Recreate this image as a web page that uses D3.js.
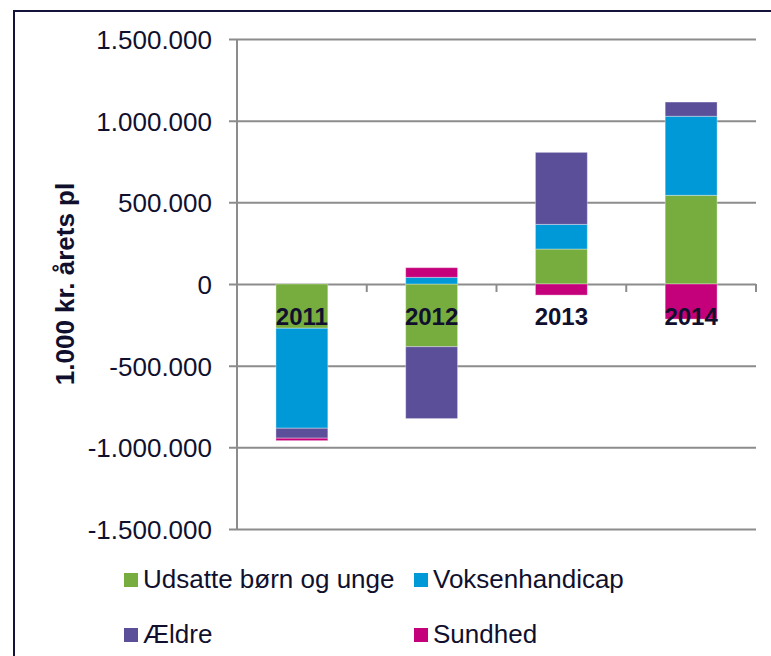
<!DOCTYPE html>
<html>
<head>
<meta charset="utf-8">
<script src="https://cdn.jsdelivr.net/npm/d3@7"></script>
<style>
  body { margin: 0; background: #fff; }
  text { font-family: "Liberation Sans", Arial, sans-serif; fill: #10102e; }
</style>
</head>
<body>
<div id="chart"></div>
<script>
// data (1.000 kr.)
const years = ["2011", "2012", "2013", "2014"];
const seriesNames = ["Udsatte børn og unge", "Voksenhandicap", "Ældre", "Sundhed"];
const udsatte = [-271000, -384000, 214000, 543000];
const voksenhandicap = [-612000, 41000, 151000, 484000];
const aeldre = [-61000, -440000, 441000, 87000];
const sundhed = [-15000, 59000, -68000, -215000];
const yTicks = [-1500000, -1000000, -500000, 0, 500000, 1000000, 1500000];

const colors = ["#77ac3f", "#0099d7", "#5b4f9a", "#c4007a"];
const keys = ["udsatte", "voksen", "aeldre", "sundhed"];

const rows = years.map((y, i) => ({
    year: y,
    udsatte: udsatte[i],
    voksen: voksenhandicap[i],
    aeldre: aeldre[i],
    sundhed: sundhed[i]
}));

const W = 771, H = 656;
const plot = { left: 237, right: 756, top: 39, bottom: 529 };

const svg = d3.select("#chart")
    .append("svg")
    .attr("width", W)
    .attr("height", H);

// outer frame (right/bottom edges fall outside the picture)
svg.append("rect")
    .attr("x", 14).attr("y", 11)
    .attr("width", 800).attr("height", 700)
    .attr("fill", "none")
    .attr("stroke", "#14143a")
    .attr("stroke-width", 2);

const x = d3.scaleBand()
    .domain(years)
    .range([plot.left, plot.right])
    .paddingInner(0.6)
    .paddingOuter(0.3);

const y = d3.scaleLinear()
    .domain([-1500000, 1500000])
    .range([plot.bottom, plot.top]);

const locale = d3.formatLocale({ decimal: ",", thousands: ".", grouping: [3], currency: ["", " kr."], minus: "-" });
const fmt = locale.format(",");

// gridlines + y axis
const yAxis = svg.append("g")
    .attr("transform", `translate(${plot.left},0)`)
    .call(d3.axisLeft(y).tickValues(yTicks).tickFormat(fmt)
        .tickSizeInner(-(plot.right - plot.left)).tickSizeOuter(0).tickPadding(0));
yAxis.select(".domain").remove();
yAxis.selectAll(".tick line")
    .attr("x1", -8)
    .attr("stroke", "#8c8c8c")
    .attr("stroke-width", 2);
yAxis.selectAll(".tick text")
    .attr("x", -25)
    .attr("dy", "0.36em")
    .style("font-size", "26px")
    .style("fill", "#10102e");

svg.append("line")
    .attr("x1", plot.left).attr("x2", plot.left)
    .attr("y1", plot.top).attr("y2", plot.bottom)
    .attr("stroke", "#8c8c8c")
    .attr("stroke-width", 2);

// stacked bars
const stack = d3.stack().keys(keys).offset(d3.stackOffsetDiverging);
const stacked = stack(rows);

svg.append("g")
    .selectAll("g")
    .data(stacked)
    .enter()
    .append("g")
    .attr("fill", (d, i) => colors[i])
    .selectAll("rect")
    .data(d => d)
    .enter()
    .append("rect")
    .attr("x", d => x(d.data.year))
    .attr("width", x.bandwidth())
    .attr("y", d => y(Math.max(d[0], d[1])))
    .attr("height", d => Math.abs(y(d[0]) - y(d[1])))
    .attr("stroke", "rgba(255,255,255,0.35)")
    .attr("stroke-width", 1);

// category ticks on the zero line
const step = x.step();
const bounds = years.map(yr => x(yr) + x.bandwidth() + step * 0.3);
svg.selectAll("line.xtick")
    .data(bounds)
    .enter()
    .append("line")
    .attr("class", "xtick")
    .attr("x1", d => d).attr("x2", d => d)
    .attr("y1", y(0)).attr("y2", y(0) + 8)
    .attr("stroke", "#8c8c8c")
    .attr("stroke-width", 2);

// year labels, drawn on top of the bars
svg.selectAll("text.year")
    .data(years)
    .enter()
    .append("text")
    .attr("class", "year")
    .attr("x", d => x(d) + x.bandwidth() / 2)
    .attr("y", y(0) + 41)
    .attr("text-anchor", "middle")
    .style("font-size", "24px")
    .style("font-weight", "bold")
    .text(d => d);

// y axis title
svg.append("text")
    .attr("transform", `translate(74, ${(plot.top + plot.bottom) / 2}) rotate(-90)`)
    .attr("text-anchor", "middle")
    .style("font-size", "26px")
    .style("font-weight", "bold")
    .text("1.000 kr. årets pl");

// legend, two columns
const legend = svg.append("g");
const legendItems = legend.selectAll("g")
    .data(seriesNames)
    .enter()
    .append("g")
    .attr("transform", (d, i) => `translate(${i % 2 === 0 ? 124 : 414}, ${588 + Math.floor(i / 2) * 55})`);

legendItems.append("rect")
    .attr("x", 0).attr("y", -15)
    .attr("width", 14).attr("height", 14)
    .attr("fill", (d, i) => colors[i]);

legendItems.append("text")
    .attr("x", 19)
    .attr("y", 0)
    .style("font-size", "26px")
    .text(d => d);
</script>
</body>
</html>
